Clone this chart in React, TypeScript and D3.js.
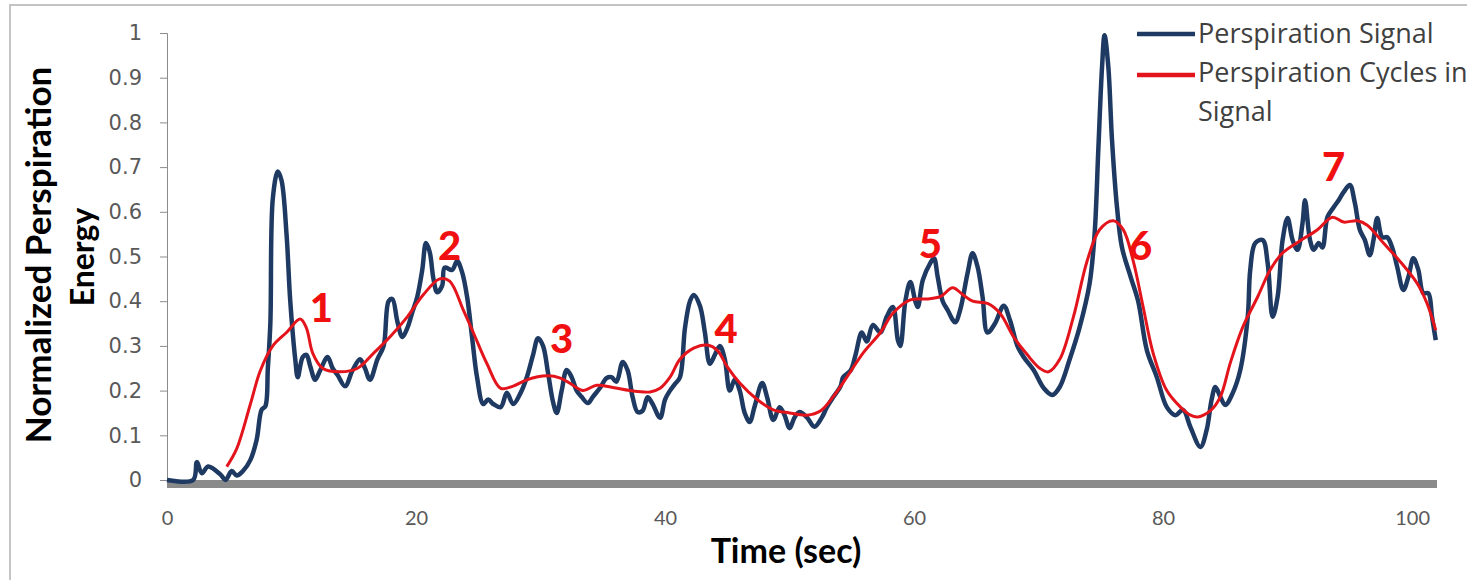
import React, { useRef, useEffect } from 'react';
import * as d3 from 'd3';

// Perspiration signal: [time (sec), normalized energy]
const signal: [number, number][] = [
  [0, 0], [2.1, 0], [2.4, 0.04], [2.8, 0.015], [3.3, 0.03], [4.3, 0.012], [4.7, 0], [5.2, 0.02],
  [5.6, 0.01], [6.1, 0.02], [6.7, 0.045], [7.2, 0.09], [7.6, 0.157], [7.9, 0.165], [8.1, 0.25],
  [8.3, 0.35], [8.5, 0.63], [8.9, 0.69], [9.2, 0.67], [9.6, 0.55], [9.9, 0.4], [10.3, 0.27],
  [10.5, 0.23], [10.9, 0.275], [11.2, 0.28], [11.5, 0.255], [11.9, 0.224], [12.3, 0.245],
  [12.9, 0.275], [13.3, 0.25], [13.7, 0.235], [14.3, 0.21], [14.9, 0.245], [15.5, 0.27],
  [15.9, 0.25], [16.3, 0.224], [16.9, 0.27], [17.4, 0.3], [17.8, 0.4], [18.1, 0.405], [18.5, 0.355],
  [18.9, 0.32], [19.3, 0.34], [19.7, 0.375], [20.1, 0.41], [20.5, 0.47], [20.8, 0.53], [21.1, 0.51],
  [21.4, 0.45], [21.7, 0.42], [22.1, 0.435], [22.3, 0.475], [22.9, 0.47], [23.3, 0.49], [23.7, 0.465],
  [24.1, 0.41], [24.5, 0.32], [24.9, 0.23], [25.4, 0.17], [25.8, 0.18], [26.2, 0.17], [26.8, 0.163],
  [27.3, 0.195], [27.8, 0.17], [28.4, 0.195], [28.9, 0.23], [29.4, 0.28], [29.8, 0.317], [30.2, 0.3],
  [30.6, 0.24], [31.0, 0.175], [31.3, 0.15], [31.7, 0.2], [32.1, 0.246], [32.5, 0.23], [32.9, 0.2],
  [33.3, 0.186], [33.8, 0.172], [34.2, 0.186], [34.8, 0.207], [35.3, 0.228], [35.7, 0.23], [36.1, 0.22],
  [36.6, 0.264], [37.0, 0.245], [37.4, 0.185], [37.8, 0.152], [38.2, 0.155], [38.6, 0.185], [39.0, 0.17],
  [39.6, 0.139], [40.0, 0.18], [40.4, 0.2], [40.8, 0.215], [41.2, 0.23], [41.6, 0.34], [42.0, 0.4],
  [42.3, 0.414], [42.8, 0.39], [43.2, 0.33], [43.6, 0.26], [44.0, 0.28], [44.4, 0.3], [44.8, 0.27],
  [45.2, 0.2], [45.6, 0.225], [46.0, 0.2], [46.4, 0.15], [46.8, 0.13], [47.2, 0.165], [47.8, 0.217],
  [48.2, 0.185], [48.7, 0.134], [49.2, 0.163], [49.6, 0.145], [50.0, 0.116], [50.4, 0.14], [50.8, 0.152],
  [51.4, 0.14], [52.0, 0.119], [52.6, 0.14], [53.0, 0.163], [53.5, 0.185], [54.1, 0.21], [54.3, 0.23],
  [54.9, 0.245], [55.3, 0.28], [55.8, 0.33], [56.2, 0.31], [56.7, 0.347], [57.3, 0.33], [57.8, 0.365],
  [58.3, 0.387], [58.7, 0.313], [58.9, 0.3], [59.3, 0.4], [59.7, 0.443], [60.1, 0.4], [60.3, 0.387],
  [60.7, 0.447], [61.3, 0.485], [61.6, 0.496], [61.9, 0.454], [62.3, 0.4], [62.7, 0.38], [63.3, 0.353],
  [63.7, 0.38], [64.3, 0.463], [64.7, 0.507], [65.1, 0.477], [65.5, 0.41], [65.9, 0.33], [66.5, 0.35],
  [67.2, 0.39], [67.7, 0.358], [68.3, 0.3], [68.8, 0.275], [69.6, 0.246], [70.4, 0.206], [71.1, 0.19],
  [71.7, 0.208], [72.5, 0.27], [73.3, 0.342], [74.1, 0.44], [74.5, 0.55], [74.8, 0.74], [75.1, 0.925],
  [75.3, 0.995], [75.6, 0.925], [75.9, 0.76], [76.3, 0.61], [76.7, 0.52], [77.4, 0.454], [78.0, 0.4],
  [78.7, 0.29], [79.5, 0.23], [80.3, 0.163], [81.0, 0.145], [81.6, 0.157], [82.2, 0.118], [83.0, 0.074],
  [83.5, 0.112], [83.9, 0.18], [84.2, 0.208], [84.6, 0.186], [85.0, 0.168], [85.6, 0.195], [86.2, 0.246],
  [86.8, 0.365], [87.0, 0.47], [87.4, 0.53], [88.0, 0.537], [88.4, 0.485], [88.8, 0.365], [89.2, 0.41],
  [89.6, 0.537], [90.0, 0.586], [90.4, 0.537], [90.8, 0.515], [91.2, 0.575], [91.4, 0.626], [91.8, 0.537],
  [92.1, 0.515], [92.5, 0.53], [92.8, 0.52], [93.2, 0.588], [93.7, 0.61], [94.1, 0.626], [94.5, 0.644],
  [95.0, 0.66], [95.4, 0.62], [95.8, 0.56], [96.2, 0.537], [96.6, 0.503], [96.9, 0.537], [97.2, 0.586],
  [97.6, 0.543], [98.0, 0.543], [98.4, 0.52], [98.8, 0.477], [99.3, 0.425], [99.7, 0.454], [100.1, 0.496],
  [100.5, 0.47], [100.9, 0.418], [101.3, 0.418], [101.6, 0.365], [101.9, 0.313],
];

// Perspiration cycles (smoothed)
const cycles: [number, number][] = [
  [4.8, 0.03], [5.6, 0.07], [6.7, 0.17], [7.5, 0.245], [8.5, 0.3], [9.6, 0.33], [10.7, 0.36],
  [11.2, 0.34], [11.7, 0.284], [12.5, 0.25], [13.9, 0.242], [15.3, 0.25], [16.6, 0.284], [17.9, 0.32],
  [19.3, 0.365], [20.6, 0.415], [21.9, 0.45], [22.7, 0.445], [23.8, 0.38], [24.6, 0.33], [25.7, 0.26],
  [26.8, 0.205], [27.8, 0.21], [28.9, 0.224], [30.5, 0.233], [31.6, 0.228], [32.6, 0.212], [33.4, 0.2],
  [34.5, 0.212], [35.8, 0.207], [37.2, 0.2], [38.8, 0.197], [39.6, 0.205], [40.4, 0.23], [41.2, 0.27],
  [42.3, 0.295], [43.4, 0.302], [44.2, 0.29], [45.0, 0.253], [46.0, 0.217], [47.4, 0.18], [48.7, 0.157],
  [50.0, 0.15], [51.4, 0.145], [52.5, 0.155], [53.5, 0.186], [54.6, 0.23], [55.9, 0.284], [57.3, 0.33],
  [58.3, 0.373], [59.7, 0.403], [61.0, 0.405], [62.1, 0.41], [63.1, 0.43], [63.9, 0.415], [64.7, 0.4],
  [65.9, 0.395], [66.9, 0.373], [68.0, 0.32], [69.1, 0.28], [70.1, 0.25], [70.8, 0.242], [71.7, 0.27],
  [72.8, 0.365], [73.9, 0.49], [74.9, 0.56], [76.0, 0.58], [76.8, 0.56], [77.6, 0.49], [78.4, 0.387],
  [79.2, 0.284], [80.3, 0.2], [81.4, 0.163], [82.2, 0.145], [82.8, 0.141], [83.8, 0.155], [84.6, 0.186],
  [85.4, 0.262], [86.4, 0.342], [87.6, 0.41], [88.6, 0.47], [89.6, 0.508], [91.0, 0.535], [92.4, 0.56],
  [93.6, 0.588], [94.5, 0.577], [95.6, 0.58], [96.4, 0.57], [97.7, 0.53], [99.0, 0.49], [100.4, 0.44],
  [101.2, 0.395], [101.9, 0.335],
];

// cycle numbers and where they sit (time, energy at baseline)
const cycleLabels = ['1', '2', '3', '4', '5', '6', '7'];
const cycleTime = [12.4, 22.7, 31.7, 44.9, 61.3, 78.2, 93.7];
const cycleValue = [0.353, 0.492, 0.284, 0.306, 0.497, 0.492, 0.67];

const yTicks = [0, 0.1, 0.2, 0.3, 0.4, 0.5, 0.6, 0.7, 0.8, 0.9, 1];
const xTicks = [0, 20, 40, 60, 80, 100];
const legendLabels = ['Perspiration Signal', 'Perspiration Cycles in', 'Signal'];

const plot = (svgRef: React.RefObject<SVGSVGElement>) => {
  const svg = d3.select(svgRef.current);
  svg.selectAll('*').remove();

  const x = d3.scaleLinear().domain([0, 102]).range([167, 1437]);
  const y = d3.scaleLinear().domain([0, 1]).range([480, 33]);

  // outer frame
  svg.append('path')
    .attr('d', 'M10,600 L10,5 L1480,5')
    .attr('fill', 'none')
    .attr('stroke', '#c4c4c4')
    .attr('stroke-width', 2);

  // y axis
  const yAxis = d3.axisLeft(y)
    .tickValues(yTicks)
    .tickFormat((d) => String(d))
    .tickSize(7)
    .tickPadding(18);

  const gy = svg.append('g')
    .attr('transform', 'translate(167,0)')
    .call(yAxis);
  gy.select('.domain').attr('stroke', '#8c8c8c');
  gy.selectAll('line').attr('stroke', '#8c8c8c');
  gy.selectAll('text')
    .attr('fill', '#595959')
    .style('font-family', '"DejaVu Sans", Verdana, sans-serif')
    .style('font-size', '21px');

  // x axis: thick grey bar
  svg.append('rect')
    .attr('x', x(0))
    .attr('y', y(0))
    .attr('width', x(102) - x(0))
    .attr('height', 8)
    .attr('fill', '#8a8a8a');

  const xAxis = d3.axisBottom(x)
    .tickValues(xTicks)
    .tickSize(0)
    .tickPadding(31);

  const gx = svg.append('g')
    .attr('transform', `translate(0,${y(0)})`)
    .call(xAxis);
  gx.select('.domain').remove();
  gx.selectAll('text')
    .attr('fill', '#595959')
    .style('font-family', 'Lato, sans-serif')
    .style('font-size', '20px');

  const line = d3.line<[number, number]>()
    .x((d) => x(d[0]))
    .y((d) => y(d[1]))
    .curve(d3.curveCatmullRom);

  svg.append('path')
    .datum(signal)
    .attr('fill', 'none')
    .attr('stroke', '#1f3a62')
    .attr('stroke-width', 4.5)
    .attr('stroke-linejoin', 'round')
    .attr('d', line);

  svg.append('path')
    .datum(cycles)
    .attr('fill', 'none')
    .attr('stroke', '#e3141b')
    .attr('stroke-width', 3)
    .attr('d', line);

  // cycle numbers
  svg.append('g')
    .selectAll('text')
    .data(cycleLabels)
    .join('text')
    .attr('x', (d, i) => x(cycleTime[i]))
    .attr('y', (d, i) => y(cycleValue[i]))
    .attr('text-anchor', 'middle')
    .attr('fill', '#f01010')
    .style('font-family', 'Lato, sans-serif')
    .style('font-weight', '900')
    .style('font-size', '40px')
    .text((d) => d);

  // axis titles
  svg.append('text')
    .attr('transform', 'translate(51,255) rotate(-90)')
    .attr('text-anchor', 'middle')
    .attr('fill', '#000')
    .style('font-family', 'Lato, sans-serif')
    .style('font-weight', 'bold')
    .style('font-size', '35px')
    .text('Normalized Perspiration');

  svg.append('text')
    .attr('transform', 'translate(94,257) rotate(-90)')
    .attr('text-anchor', 'middle')
    .attr('fill', '#000')
    .style('font-family', 'Lato, sans-serif')
    .style('font-weight', 'bold')
    .style('font-size', '32px')
    .text('Energy');

  svg.append('text')
    .attr('x', 786)
    .attr('y', 563)
    .attr('text-anchor', 'middle')
    .attr('fill', '#000')
    .style('font-family', 'Lato, sans-serif')
    .style('font-weight', 'bold')
    .style('font-size', '34px')
    .text('Time (sec)');

  // legend
  const legend = svg.append('g');
  legend.append('line')
    .attr('x1', 1137).attr('x2', 1195).attr('y1', 34).attr('y2', 34)
    .attr('stroke', '#1f3a62').attr('stroke-width', 4.5);
  legend.append('line')
    .attr('x1', 1137).attr('x2', 1195).attr('y1', 75).attr('y2', 75)
    .attr('stroke', '#e3141b').attr('stroke-width', 4.5);
  legend.selectAll('text')
    .data(legendLabels)
    .join('text')
    .attr('x', 1198)
    .attr('y', (d, i) => 43 + i * 39)
    .attr('fill', '#404040')
    .style('font-family', '"Open Sans", sans-serif')
    .style('font-size', '27px')
    .text((d) => d);
};

export default function App() {
  const svgRef = useRef<SVGSVGElement>(null);

  useEffect(() => {
    plot(svgRef);
  }, []);

  return (
    <svg
      ref={svgRef}
      width={1467}
      height={580}
      style={{ position: 'absolute', left: 0, top: 0, background: '#fff' }}
    />
  );
}
